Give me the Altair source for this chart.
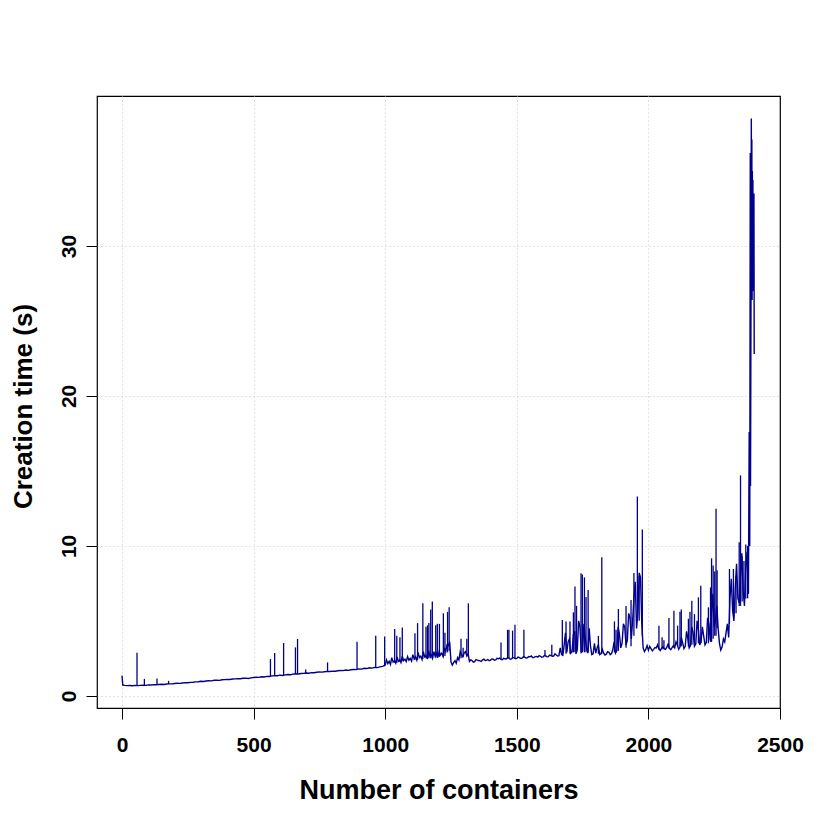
import altair as alt
import pandas as pd

# ---- data ----
head_x = [0, 3]
head_y = [1.35, 0.72]

# main trace, one reading every 10 containers from x = 10
base_start = 10
base_step = 10
base_values = [
    0.70, 0.68, 0.69, 0.67, 0.70, 0.68, 0.70, 0.71, 0.70,
    0.73, 0.72, 0.75, 0.74, 0.76, 0.77, 0.76, 0.79, 0.80, 0.80,
    0.82, 0.84, 0.83, 0.86, 0.88, 0.87, 0.90, 0.91, 0.93, 0.94,
    0.97, 0.96, 0.99, 1.01, 1.00, 1.04, 1.05, 1.03, 1.07, 1.08,
    1.10, 1.09, 1.12, 1.13, 1.15, 1.14, 1.17, 1.18, 1.16, 1.20,
    1.22, 1.24, 1.23, 1.27, 1.26, 1.30, 1.29, 1.33, 1.35, 1.34,
    1.38, 1.36, 1.40, 1.42, 1.41, 1.45, 1.47, 1.46, 1.49, 1.50,
    1.52, 1.51, 1.55, 1.54, 1.57, 1.60, 1.58, 1.61, 1.63, 1.62,
    1.65, 1.64, 1.67, 1.69, 1.68, 1.72, 1.70, 1.74, 1.76, 1.75,
    1.80, 1.78, 1.84, 1.82, 1.87, 1.85, 1.90, 1.88, 1.93, 1.97,
    2.05, 2.15, 2.10, 2.25, 2.18, 2.30, 2.22, 2.35, 2.28, 2.38,
    2.32, 2.45, 2.38, 2.55, 2.42, 2.60, 2.45, 2.65, 2.50, 2.62,
    2.55, 2.72, 2.62, 2.95, 3.35, 2.25, 2.22, 2.18, 2.40, 2.75,
    2.85, 2.65, 2.30, 2.35, 2.28, 2.38, 2.33, 2.40, 2.35, 2.42,
    2.38, 2.45, 2.40, 2.48, 2.43, 2.50, 2.46, 2.52, 2.47, 2.53,
    2.50, 2.55, 2.52, 2.58, 2.54, 2.60, 2.56, 2.62, 2.58, 2.64,
    2.60, 2.66, 2.62, 2.68, 2.65, 2.72, 2.68, 2.75, 3.40, 2.90,
    3.80, 2.95, 4.30, 3.10, 4.60, 3.00, 3.90, 2.85, 3.30, 2.80,
    2.85, 3.40, 2.80, 2.85, 2.78, 2.90, 2.82, 3.60, 3.00, 4.10,
    3.50, 4.60, 3.70, 5.20, 5.00, 7.60, 5.50, 7.90, 3.20, 3.10,
    3.05, 3.15, 3.10, 3.20, 3.12, 3.18, 3.15, 3.25, 3.17, 3.22,
    3.20, 3.40, 3.25, 3.55, 3.30, 3.80, 3.35, 4.20, 3.45, 4.40,
    3.60, 4.00, 3.55, 4.80, 5.50, 4.60, 6.00, 3.50, 3.25, 3.60,
    4.80, 6.50, 5.70, 7.20, 6.50, 8.00, 7.00, 8.50, 6.80,
]

# in-between readings (x = 1005, 1015, ...) where the trace is a noisy band
mid_start = 1005
mid_step = 10
mid_values = [
    2.40, 2.30, 2.55, 2.35, 2.60, 2.40, 2.65, 2.45, 2.62, 2.50,
    2.75, 2.60, 2.90, 2.65, 2.95, 2.70, 3.00, 2.75, 2.95, 2.85,
    2.95, 2.85, 3.20, 3.40, 3.60, 2.05, 2.35, 2.55, 2.95, 2.60,
    2.95, 2.80, 2.40, 2.25, 2.42, 2.36, 2.30, 2.45, 2.38, 2.34,
    2.46, 2.38, 2.50, 2.52, 2.41, 2.47, 2.55, 2.44, 2.56, 2.48,
    2.58, 2.49, 2.60, 2.53, 2.62, 2.66, 2.55, 2.63, 2.68, 2.57,
    2.70, 2.60, 2.72, 2.64, 2.80, 2.66, 3.20, 2.70, 4.20, 3.60,
    2.85, 4.10, 2.80, 5.00, 2.90, 4.80, 3.20, 4.50, 2.75, 3.50,
    3.20, 2.75, 3.10, 2.72, 2.95, 2.75, 3.10, 2.85, 4.60, 3.20,
    4.80, 3.40, 5.50, 3.80, 6.50, 4.50, 8.20, 4.80, 2.95, 3.35,
    3.30, 3.00, 3.22, 3.40, 3.02, 3.28, 3.10, 3.45, 3.08, 3.35,
    3.60, 3.10, 3.90, 3.15, 4.30, 3.20, 4.60, 3.30, 5.00, 3.40,
    4.60, 3.40, 5.20, 3.70, 6.80, 5.00, 4.50, 3.05, 3.80, 4.20,
    3.90, 7.80, 5.00, 8.80, 6.20, 9.50, 6.00, 9.60,
]

tail_x = [2383, 2385, 2386, 2387, 2388, 2389, 2390, 2391, 2392, 2393,
          2394, 2395, 2396, 2397, 2398, 2399, 2400, 2401, 2402]
tail_y = [17.6, 10.0, 20.9, 36.2, 14.0, 21.0, 28.0, 38.5, 30.0, 37.1,
          26.4, 35.0, 28.0, 34.4, 27.0, 33.1, 29.0, 33.5, 22.8]

spike_x = [57, 85, 133, 177, 564, 580, 614, 659, 667, 698, 781, 893, 964, 998,
           1036, 1044, 1056, 1065, 1113, 1123, 1143, 1155, 1161, 1166, 1173, 1179,
           1192, 1198, 1206, 1221, 1227, 1237, 1243, 1288, 1296, 1310, 1316,
           1440, 1465, 1470, 1484, 1493, 1527, 1607, 1633, 1673, 1687, 1702,
           1715, 1721, 1727, 1744, 1749, 1757, 1763, 1771, 1810, 1823, 1871,
           1877, 1886, 1915, 1934, 1945, 1958, 1965, 1977, 2040, 2052, 2059,
           2078, 2097, 2111, 2120, 2125, 2152, 2158, 2165, 2175, 2190, 2199,
           2228, 2236, 2240, 2246, 2252, 2257, 2261, 2308, 2323, 2333, 2345,
           2350, 2356, 2363, 2370, 2377]
spike_low = [0.70, 0.71, 0.76, 0.80, 1.30, 1.33, 1.38, 1.47, 1.47, 1.50, 1.62, 1.75, 1.88, 1.97,
             2.20, 2.20, 2.25, 2.30, 2.40, 2.40, 2.45, 2.50, 2.50, 2.50, 2.50, 2.50,
             2.55, 2.55, 2.60, 2.60, 2.65, 2.90, 3.00, 2.50, 2.60, 2.70, 2.70,
             2.45, 2.50, 2.50, 2.50, 2.50, 2.55, 2.62, 2.65, 2.75, 2.80, 2.80,
             2.90, 2.90, 2.90, 2.90, 2.90, 2.90, 2.90, 2.90, 2.80, 2.80, 2.90,
             2.90, 3.00, 3.20, 3.30, 4.00, 5.00, 5.00, 4.00, 3.10, 3.10, 3.10,
             3.15, 3.20, 3.30, 3.30, 3.30, 3.30, 3.30, 3.40, 3.40, 3.50, 3.50,
             3.50, 3.60, 3.60, 3.80, 4.00, 4.00, 4.50, 4.80, 5.50, 5.50, 6.00,
             6.00, 6.30, 6.50, 6.50, 6.50]
spike_high = [2.87, 1.13, 1.15, 1.00, 2.45, 2.85, 3.52, 3.23, 3.79, 1.75, 2.23, 3.61, 4.00, 3.95,
              4.45, 4.00, 3.90, 4.56, 4.17, 4.85, 6.17, 4.60, 4.70, 4.85, 5.75, 6.30,
              4.70, 4.80, 4.80, 5.50, 4.20, 5.60, 5.90, 3.80, 3.20, 3.80, 6.17,
              3.56, 4.40, 4.40, 4.35, 4.74, 4.40, 3.05, 3.40, 5.06, 4.96, 4.96,
              5.57, 7.30, 6.00, 8.17, 8.10, 7.90, 6.60, 7.06, 4.00, 9.24, 4.96,
              4.40, 5.79, 6.00, 6.39, 8.20, 13.30, 8.00, 11.10, 4.68, 3.90, 3.70,
              5.19, 5.68, 4.68, 5.60, 5.75, 5.14, 5.60, 6.35, 5.45, 6.57, 7.35,
              5.90, 7.23, 9.17, 8.70, 8.30, 12.47, 8.37, 8.46, 8.46, 8.00, 10.24,
              14.70, 9.30, 9.00, 10.10, 10.00]

x_ticks = [0, 500, 1000, 1500, 2000, 2500]
y_ticks = [0, 10, 20, 30]

# ---- build tables ----
base_x = [base_start + i * base_step for i in range(len(base_values))]
mid_x = [mid_start + i * mid_step for i in range(len(mid_values))]
line_df = pd.DataFrame({"x": head_x + base_x + mid_x + tail_x,
                        "y": head_y + base_values + mid_values + tail_y})
line_df = line_df.sort_values("x").reset_index(drop=True)
spike_df = pd.DataFrame({"x": spike_x, "y": spike_low, "y2": spike_high})

FONT = "Liberation Sans, Arial, Helvetica, sans-serif"
COLOR = "#00008B"

xscale = alt.Scale(domain=[-95, 2500], nice=False, zero=False)
yscale = alt.Scale(domain=[-0.81, 40.0], nice=False, zero=False)

xaxis = alt.Axis(values=x_ticks, title="Number of containers", format="d",
                 grid=True, gridDash=[1, 3], gridColor="#c8c8c8", gridWidth=1,
                 gridOpacity={"condition": {"test": "datum.value >= 2500", "value": 0}, "value": 1},
                 domain=False, ticks=True, tickSize=11, tickColor="black", tickWidth=1,
                 labelFont=FONT, labelFontSize=21, labelFontWeight="bold", labelColor="black",
                 labelPadding=15, labelOverlap=False, labelFlush=False,
                 titleFont=FONT, titleFontSize=27, titleFontWeight="bold", titleColor="black",
                 titleY=82, titleBaseline="middle")
yaxis = alt.Axis(values=y_ticks, title="Creation time (s)", format="d",
                 grid=True, gridDash=[1, 3], gridColor="#c8c8c8", gridWidth=1,
                 domain=False, ticks=True, tickSize=11, tickColor="black", tickWidth=1,
                 labelFont=FONT, labelFontSize=21, labelFontWeight="bold", labelColor="black",
                 labelAngle=270, labelAlign="center", labelBaseline="middle",
                 labelPadding=17, labelOverlap=False, labelFlush=False,
                 titleFont=FONT, titleFontSize=26, titleFontWeight="bold", titleColor="black",
                 titleAngle=270, titleX=-74, titleY=310, titleAlign="center",
                 titleBaseline="middle")

line = alt.Chart(line_df).mark_line(color=COLOR, strokeWidth=1.4).encode(
    x=alt.X("x:Q", scale=xscale, axis=xaxis),
    y=alt.Y("y:Q", scale=yscale, axis=yaxis),
    order="x:Q",
)
spikes = alt.Chart(spike_df).mark_rule(color=COLOR, strokeWidth=1.3).encode(
    x=alt.X("x:Q", scale=xscale, axis=xaxis),
    y=alt.Y("y:Q", scale=yscale, axis=yaxis),
    y2="y2:Q",
)

chart = alt.layer(spikes, line).properties(
    width=683, height=612,
    autosize=alt.AutoSizeParams(type="none"),
    padding={"left": 89, "top": 88, "right": 30, "bottom": 100},
    background="white",
).configure_view(stroke="black", strokeWidth=1.2)

chart.save("out.html", embed_options={"renderer": "svg", "actions": False})
